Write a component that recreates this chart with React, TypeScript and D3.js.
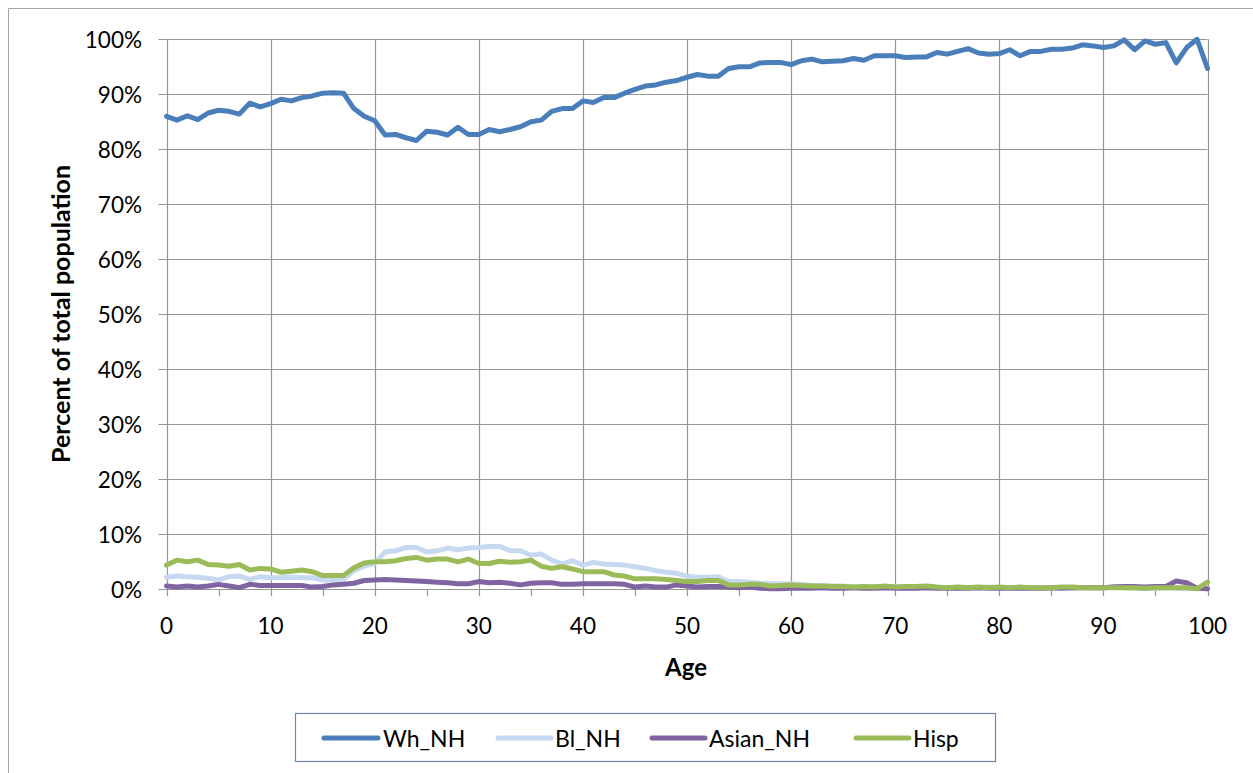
import React from "react";
import * as d3 from "d3";

const ages: number[] = d3.range(0, 101);

const whNH: number[] = [
  86.0, 85.3, 86.1, 85.4, 86.6, 87.1, 86.9, 86.4, 88.4, 87.7,
  88.3, 89.1, 88.8, 89.4, 89.7, 90.2, 90.3, 90.2, 87.4, 86.0,
  85.2, 82.6, 82.7, 82.1, 81.6, 83.3, 83.1, 82.6, 84.0, 82.7,
  82.7, 83.6, 83.2, 83.6, 84.1, 85.0, 85.3, 86.9, 87.4, 87.4,
  88.8, 88.5, 89.4, 89.4, 90.2, 90.9, 91.5, 91.7, 92.2, 92.5,
  93.1, 93.6, 93.3, 93.3, 94.7, 95.0, 95.0, 95.7, 95.8, 95.8,
  95.4, 96.1, 96.4, 95.9, 96.0, 96.1, 96.5, 96.2, 97.0, 97.0,
  97.0, 96.7, 96.8, 96.8, 97.6, 97.3, 97.8, 98.3, 97.5, 97.3,
  97.4, 98.1, 97.0, 97.8, 97.8, 98.2, 98.2, 98.4, 99.0, 98.8,
  98.5, 98.8, 99.9, 98.1, 99.7, 99.1, 99.4, 95.7, 98.5, 100.0,
  94.7,
];

const blNH: number[] = [
  2.2, 2.4, 2.3, 2.2, 2.0, 1.7, 2.3, 2.4, 1.8, 2.3,
  2.1, 2.1, 2.2, 2.1, 2.1, 1.7, 1.7, 1.8, 3.4, 4.2,
  4.7, 6.8, 7.0, 7.6, 7.6, 6.8, 7.0, 7.5, 7.2, 7.5,
  7.6, 7.8, 7.8, 7.0, 7.0, 6.2, 6.4, 5.3, 4.6, 5.2,
  4.4, 4.9, 4.6, 4.5, 4.4, 4.1, 3.8, 3.4, 3.1, 2.9,
  2.4, 2.2, 2.2, 2.3, 1.4, 1.4, 1.3, 1.1, 1.0, 1.0,
  1.0, 0.9, 0.7, 0.7, 0.6, 0.6, 0.4, 0.4, 0.5, 0.4,
  0.5, 0.4, 0.3, 0.4, 0.3, 0.3, 0.3, 0.3, 0.3, 0.4,
  0.3, 0.3, 0.2, 0.3, 0.2, 0.2, 0.3, 0.2, 0.3, 0.3,
  0.2, 0.5, 0.3, 0.2, 0.1, 0.2, 0.3, 0.2, 0.1, 0.2,
  0.1,
];

const asianNH: number[] = [
  0.6, 0.4, 0.6, 0.4, 0.6, 0.9, 0.6, 0.3, 0.9, 0.7,
  0.7, 0.7, 0.7, 0.7, 0.4, 0.5, 0.8, 0.9, 1.1, 1.6,
  1.7, 1.8, 1.7, 1.6, 1.5, 1.4, 1.3, 1.2, 1.0, 1.0,
  1.4, 1.2, 1.3, 1.1, 0.8, 1.1, 1.2, 1.2, 0.9, 0.9,
  1.0, 1.0, 1.0, 1.0, 0.9, 0.4, 0.6, 0.4, 0.4, 0.8,
  0.6, 0.4, 0.5, 0.5, 0.4, 0.3, 0.4, 0.2, 0.1, 0.1,
  0.2, 0.2, 0.2, 0.3, 0.2, 0.2, 0.3, 0.2, 0.2, 0.3,
  0.2, 0.2, 0.2, 0.3, 0.2, 0.2, 0.2, 0.2, 0.3, 0.2,
  0.2, 0.2, 0.2, 0.2, 0.2, 0.3, 0.2, 0.3, 0.3, 0.3,
  0.3, 0.4, 0.5, 0.5, 0.4, 0.5, 0.5, 1.5, 1.2, 0.2,
  0.1,
];

const hisp: number[] = [
  4.4, 5.3, 5.0, 5.3, 4.5, 4.4, 4.2, 4.5, 3.5, 3.8,
  3.7, 3.1, 3.3, 3.5, 3.2, 2.5, 2.5, 2.5, 3.9, 4.8,
  5.0, 5.0, 5.2, 5.6, 5.8, 5.3, 5.5, 5.5, 5.0, 5.5,
  4.7, 4.7, 5.1, 4.9, 5.0, 5.3, 4.2, 3.8, 4.1, 3.7,
  3.2, 3.2, 3.2, 2.6, 2.4, 1.9, 1.9, 1.9, 1.8, 1.6,
  1.4, 1.4, 1.6, 1.6, 0.8, 0.8, 0.9, 0.9, 0.6, 0.7,
  0.8, 0.7, 0.6, 0.6, 0.5, 0.5, 0.4, 0.5, 0.4, 0.6,
  0.4, 0.5, 0.5, 0.6, 0.4, 0.3, 0.4, 0.3, 0.4, 0.3,
  0.4, 0.3, 0.4, 0.3, 0.3, 0.3, 0.4, 0.4, 0.3, 0.3,
  0.3, 0.3, 0.3, 0.3, 0.2, 0.3, 0.3, 0.3, 0.3, 0.1,
  1.3,
];

const seriesNames: string[] = ["Wh_NH", "Bl_NH", "Asian_NH", "Hisp"];
const seriesColors: string[] = ["#4a7ebb", "#c6d9f1", "#8064a2", "#9bbb59"];
const seriesValues: number[][] = [whNH, blNH, asianNH, hisp];

const yTicks: number[] = d3.range(0, 101, 10);
const xLabelTicks: number[] = d3.range(0, 101, 10);
const xMinorTicks: number[] = d3.range(0, 101, 5);

const FONT = "Lato, 'Open Sans', sans-serif";

export default function App() {
  const left = 166.5;
  const right = 1207.5;
  const top = 39.3;
  const bottom = 589.3;

  const x = d3.scaleLinear().domain([0, 100]).range([left, right]);
  const y = d3.scaleLinear().domain([0, 100]).range([bottom, top]);

  const line = d3
    .line<number>()
    .x((_, i) => x(ages[i]))
    .y((d) => y(d));

  const gridColor = "#969696";

  const legendItems = [
    { x0: 324, x1: 378, tx: 383 },
    { x0: 498, x1: 551, tx: 555 },
    { x0: 652, x1: 705, tx: 709 },
    { x0: 856, x1: 909, tx: 913 },
  ];

  return (
    <svg
      width={1253}
      height={773}
      style={{ position: "absolute", left: 0, top: 0, background: "#fff" }}
      fontFamily={FONT}
    >
      <rect x={0} y={0} width={1253} height={773} fill="#fff" />
      <path d="M8.5,780 L8.5,8.5 L1260,8.5" fill="none" stroke="#a6a6a6" strokeWidth={1} />

      {yTicks.map((t) => (
        <line
          key={"hg" + t}
          x1={left - 8}
          x2={right}
          y1={Math.round(y(t)) + 0.5}
          y2={Math.round(y(t)) + 0.5}
          stroke={gridColor}
          strokeWidth={1.2}
        />
      ))}
      {xLabelTicks.map((t) => (
        <line
          key={"vg" + t}
          x1={Math.round(x(t)) + 0.5}
          x2={Math.round(x(t)) + 0.5}
          y1={top}
          y2={bottom + 7}
          stroke={gridColor}
          strokeWidth={1.2}
        />
      ))}
      {xMinorTicks
        .filter((t) => t % 10 !== 0)
        .map((t) => (
          <line
            key={"mt" + t}
            x1={Math.round(x(t)) + 0.5}
            x2={Math.round(x(t)) + 0.5}
            y1={bottom}
            y2={bottom + 7}
            stroke={gridColor}
            strokeWidth={1.2}
          />
        ))}

      {seriesValues.map((vals, i) => (
        <path
          key={seriesNames[i]}
          d={line(vals) || ""}
          fill="none"
          stroke={seriesColors[i]}
          strokeWidth={5}
          strokeLinejoin="round"
          strokeLinecap="round"
        />
      ))}

      {yTicks.map((t) => (
        <text
          key={"yl" + t}
          x={142}
          y={y(t)}
          textAnchor="end"
          dominantBaseline="central"
          fontSize={22.5}
          fill="#000"
        >
          {t + "%"}
        </text>
      ))}
      {xLabelTicks.map((t) => (
        <text
          key={"xl" + t}
          x={x(t)}
          y={625}
          textAnchor="middle"
          dominantBaseline="central"
          fontSize={22.5}
          fill="#000"
        >
          {t}
        </text>
      ))}

      <text
        x={686}
        y={666}
        textAnchor="middle"
        dominantBaseline="central"
        fontSize={24}
        fontWeight="bold"
        fill="#000"
      >
        Age
      </text>
      <text
        transform={`translate(60, 314) rotate(-90)`}
        textAnchor="middle"
        dominantBaseline="central"
        fontSize={25}
        fontWeight="bold"
        fill="#000"
      >
        Percent of total population
      </text>

      <rect x={295.5} y={713.5} width={700} height={48} fill="#fff" stroke="#6f87ad" strokeWidth={1.2} />
      {seriesNames.map((name, i) => (
        <g key={"lg" + name}>
          <line
            x1={legendItems[i].x0}
            x2={legendItems[i].x1}
            y1={738}
            y2={738}
            stroke={seriesColors[i]}
            strokeWidth={5}
            strokeLinecap="round"
          />
          <text
            x={legendItems[i].tx}
            y={738}
            dominantBaseline="central"
            fontSize={23}
            fill="#000"
          >
            {name}
          </text>
        </g>
      ))}
    </svg>
  );
}
